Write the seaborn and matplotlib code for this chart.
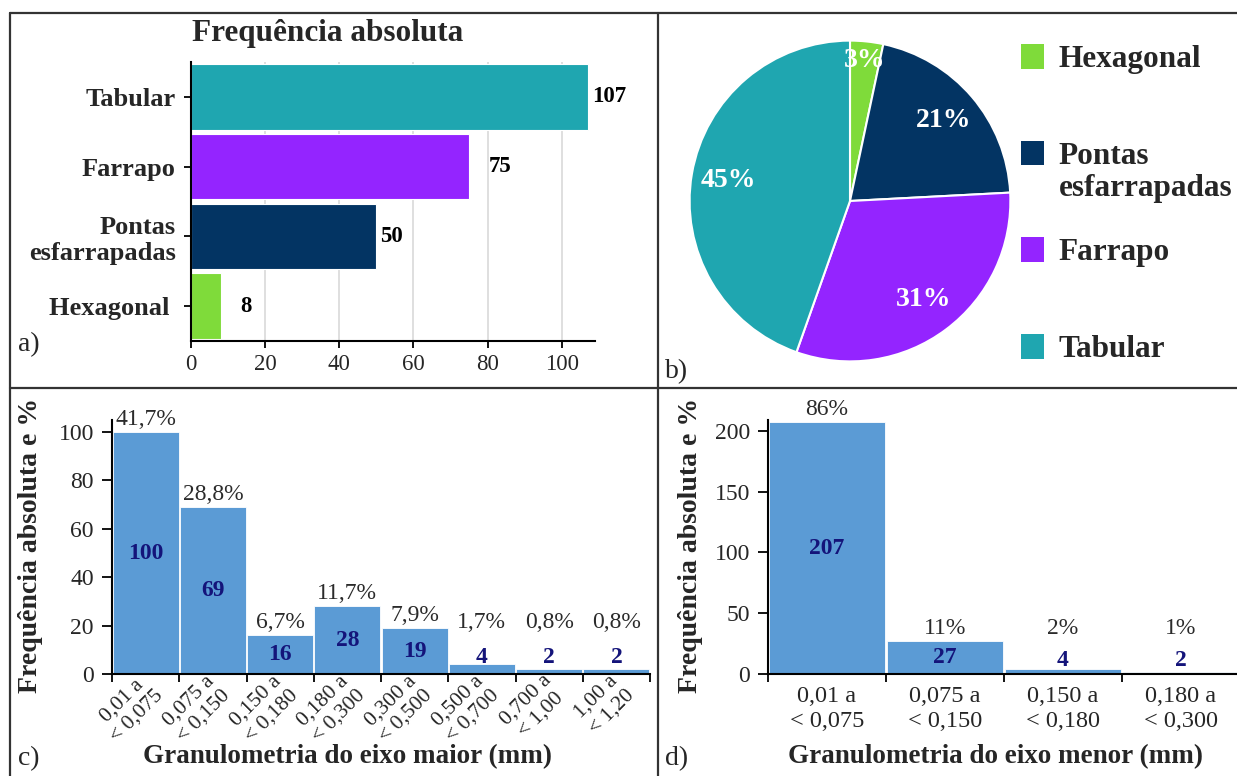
import numpy as np
import pandas as pd
import matplotlib
matplotlib.use("Agg")
import matplotlib.pyplot as plt
from matplotlib.patches import Patch
from matplotlib.lines import Line2D
from matplotlib.transforms import ScaledTranslation
import seaborn as sns

# ---- data -------------------------------------------------------------
shape_names = ["Tabular", "Farrapo", "Pontas\nesfarrapadas", "Hexagonal "]
shape_counts = [107, 75, 50, 8]
shape_colors = ["#1FA6B0", "#9424FF", "#033463", "#7FDB3A"]

pie_labels = ["Hexagonal", "Pontas", "Farrapo", "Tabular"]
pie_counts = [8, 50, 75, 107]
pie_colors = ["#7FDB3A", "#033463", "#9424FF", "#1FA6B0"]

major_classes = ["0,01 a\n< 0,075", "0,075 a\n< 0,150", "0,150 a\n< 0,180",
                 "0,180 a\n< 0,300", "0,300 a\n< 0,500", "0,500 a\n< 0,700",
                 "0,700 a\n< 1,00", "1,00 a\n< 1,20"]
major_counts = [100, 69, 16, 28, 19, 4, 2, 2]
major_pct = ["41,7%", "28,8%", "6,7%", "11,7%", "7,9%", "1,7%", "0,8%", "0,8%"]

minor_classes = ["0,01 a\n< 0,075", "0,075 a\n< 0,150", "0,150 a\n< 0,180",
                 "0,180 a\n< 0,300"]
minor_counts = [207, 27, 4, 2]
minor_pct = ["86%", "11%", "2%", "1%"]

# ---- style ------------------------------------------------------------
sns.set_theme(style="white")
plt.rcParams["font.family"] = ["Liberation Serif", "DejaVu Serif"]
plt.rcParams["axes.edgecolor"] = "black"
plt.rcParams["axes.linewidth"] = 1.5

W, H = 1237, 776
fig = plt.figure(figsize=(W / 100, H / 100), dpi=100)


def px_rect(left, top, right, bottom):
    return [left / W, 1 - bottom / H, (right - left) / W, (bottom - top) / H]


BAR_BLUE = "#5B9BD5"
COUNT_COLOR = "#14147A"
PCT_COLOR = "#2B2B2B"

# ---- a) horizontal bars -------------------------------------------------
ax_a = fig.add_axes(px_rect(191, 62, 595, 341))
df_shape = pd.DataFrame({"forma": shape_names, "n": shape_counts})
sns.barplot(data=df_shape, x="n", y="forma", hue="forma", palette=shape_colors,
            orient="h", width=0.94, legend=False, ax=ax_a, saturation=1,
            edgecolor="white", linewidth=0.8)
ax_a.set_xlim(0, 109)
ax_a.set_xticks([0, 20, 40, 60, 80, 100])
ax_a.xaxis.grid(True, color="#d9d9d9", linewidth=1.2)
ax_a.set_axisbelow(True)
ax_a.set_xlabel("")
ax_a.set_ylabel("")
for s in ("top", "right"):
    ax_a.spines[s].set_visible(False)
ax_a.tick_params(axis="both", which="both", bottom=True, left=True,
                 direction="out", length=5, width=1.3, color="black")
ax_a.tick_params(axis="x", labelsize=16.5, pad=4)
ax_a.tick_params(axis="y", labelsize=19, pad=6)
for lab in ax_a.get_yticklabels():
    lab.set_fontweight("bold")
label_pad = [3, 14, 3, 14]
for patch, val, pad in zip(ax_a.patches, shape_counts, label_pad):
    y = patch.get_y() + patch.get_height() / 2
    ax_a.annotate(f"{val}", xy=(patch.get_width(), y), xytext=(pad, 0),
                  textcoords="offset points", ha="left", va="center",
                  fontsize=16.5, fontweight="bold", color="black")
fig.text(328 / W, 1 - 33 / H, "Frequência absoluta", ha="center", va="center",
         fontsize=22.5, fontweight="bold")

# ---- b) pie -------------------------------------------------------------
ax_b = fig.add_axes(px_rect(688, 39, 1012, 363))
wedges, _, autotexts = ax_b.pie(
    pie_counts, colors=pie_colors, startangle=90, counterclock=False,
    autopct="%.0f%%", pctdistance=0.77, radius=1.0,
    wedgeprops=dict(edgecolor="white", linewidth=1.5),
    textprops=dict(color="white", fontsize=20, fontweight="bold"))
x0, y0 = autotexts[0].get_position()
autotexts[0].set_position((x0 * 0.88 / 0.77, y0 * 0.88 / 0.77))
ax_b.set_xlim(-1.01, 1.01)
ax_b.set_ylim(-1.01, 1.01)
ax_b.set_aspect("equal")

LEG_SIZE = 22.5
handles = [Patch(facecolor=c, edgecolor="none") for c in pie_colors]
leg = fig.legend(handles, pie_labels, loc="upper left",
                 bbox_to_anchor=(1021 / W, 1 - 44 / H),
                 frameon=False, borderpad=0, borderaxespad=0,
                 handlelength=0.75, handleheight=0.85, handletextpad=0.45,
                 labelspacing=2.12,
                 prop=dict(weight="bold", size=LEG_SIZE))
# second line of the "Pontas esfarrapadas" entry, hung below its first line
pontas_text = leg.get_texts()[1]
esf = plt.Annotation(
    "esfarrapadas", xy=(0, 0), xycoords=pontas_text, xytext=(0, -2),
    textcoords="offset points", ha="left", va="top",
    fontsize=LEG_SIZE, fontweight="bold")
esf.set_zorder(leg.get_zorder() + 1)
fig.add_artist(esf)

# ---- c) and d) histograms ----------------------------------------------
def class_bars(ax, classes, counts, pct, ymax, yticks, count_floor,
               pct_floor, rotate, xlabel, xlabel_pos, ylabel_x):
    df = pd.DataFrame({"classe": classes, "n": counts})
    sns.barplot(data=df, x="classe", y="n", color=BAR_BLUE, width=0.98,
                edgecolor="white", linewidth=0.6, ax=ax, saturation=1)
    n = len(classes)
    ax.set_xlim(-0.5, n - 0.5)
    ax.set_ylim(0, ymax)
    ax.set_yticks(yticks)
    for s in ("top", "right"):
        ax.spines[s].set_visible(False)
    ax.set_xticks(np.arange(-0.5, n, 1.0), minor=True)
    ax.tick_params(axis="x", which="minor", bottom=True, direction="out",
                   length=6, width=1.3, color="black")
    ax.tick_params(axis="x", which="major", bottom=True, length=0)
    ax.tick_params(axis="y", left=True, direction="out", length=7,
                   width=1.3, color="black", labelsize=17, pad=6)
    ax.set_xticks(range(n))
    if rotate:
        ax.set_xticklabels(classes, rotation=45, ha="right", va="center",
                           rotation_mode="anchor", fontsize=15.5,
                           multialignment="center")
        ax.tick_params(axis="x", which="major", pad=8)
        nudge = ScaledTranslation(5 / 72, 0, fig.dpi_scale_trans)
        for lab in ax.get_xticklabels():
            lab.set_transform(lab.get_transform() + nudge)
    else:
        ax.set_xticklabels(classes, fontsize=17.5, multialignment="center")
        ax.tick_params(axis="x", which="major", pad=9)
    for i, (v, p) in enumerate(zip(counts, pct)):
        ax.text(i, max(v / 2, count_floor), f"{v}", ha="center", va="center",
                fontsize=17, fontweight="bold", color=COUNT_COLOR)
        ax.annotate(p, xy=(i, max(v, pct_floor)), xytext=(0, 1.5),
                    textcoords="offset points", ha="center", va="bottom",
                    fontsize=17, color=PCT_COLOR)
    ax.set_ylabel("Frequência absoluta e %", fontsize=20, fontweight="bold",
                  va="center")
    ax.yaxis.set_label_coords(ylabel_x, 0.508)
    ax.set_xlabel(xlabel, fontsize=19.5, fontweight="bold", va="center")
    ax.xaxis.set_label_coords(*xlabel_pos)


ax_c = fig.add_axes(px_rect(112, 420, 650, 674))
class_bars(ax_c, major_classes, major_counts, major_pct, 105,
           [0, 20, 40, 60, 80, 100], 7, 16, True,
           "Granulometria do eixo maior (mm)", (0.437, -0.327), -0.152)

ax_d = fig.add_axes(px_rect(768, 420, 1240, 674))
class_bars(ax_d, minor_classes, minor_counts, minor_pct, 209,
           [0, 50, 100, 150, 200], 11.5, 27, False,
           "Granulometria do eixo menor (mm)", (0.481, -0.327), -0.165)

# ---- panel frame and letters -------------------------------------------
frame_kw = dict(color="#333333", linewidth=1.6, transform=fig.transFigure)
fig.add_artist(Line2D([10 / W, 1.0], [1 - 13 / H, 1 - 13 / H], **frame_kw))
fig.add_artist(Line2D([10 / W, 10 / W], [1 - 13 / H, 0.0], **frame_kw))
fig.add_artist(Line2D([10 / W, 1.0], [1 - 388 / H, 1 - 388 / H], **frame_kw))
fig.add_artist(Line2D([658 / W, 658 / W], [1 - 13 / H, 0.0], **frame_kw))

for txt, (x, y) in {"a)": (18, 345), "b)": (665, 372),
                    "c)": (18, 759), "d)": (665, 759)}.items():
    fig.text(x / W, 1 - y / H, txt, fontsize=20, ha="left", va="center")

fig.savefig("out.png", dpi=100)
